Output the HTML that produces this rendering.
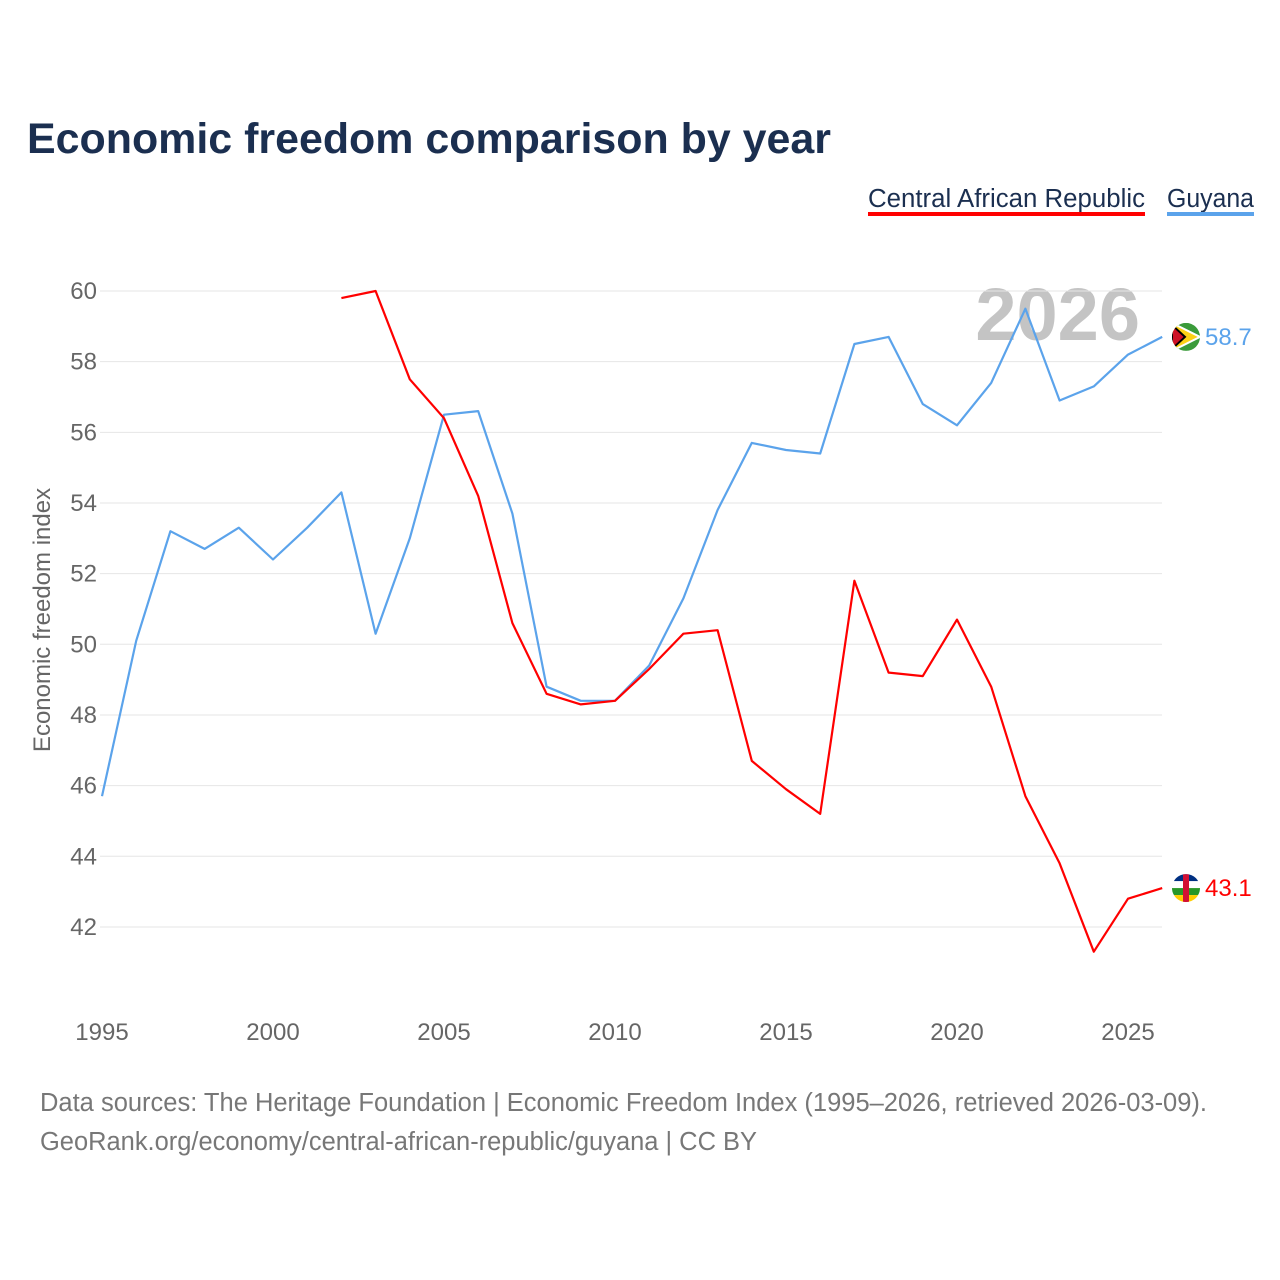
<!DOCTYPE html>
<html><head><meta charset="utf-8">
<style>
body{margin:0;background:#fff;font-family:"Liberation Sans",sans-serif;}
#wrap{position:relative;width:1280px;height:1280px;overflow:hidden;}
</style></head>
<body><div id="wrap">
<svg id="svg" width="1280" height="1280" xmlns="http://www.w3.org/2000/svg">
<defs>
<clipPath id="cg"><circle cx="1186" cy="337" r="14"/></clipPath>
<clipPath id="cc"><circle cx="1186" cy="886" r="14"/></clipPath>
</defs>
<text x="27" y="153" font-size="43" font-weight="bold" fill="#1b2f50" textLength="804" lengthAdjust="spacingAndGlyphs">Economic freedom comparison by year</text>
<g><text x="868" y="207" font-size="25.5" fill="#1b2f50" textLength="277" lengthAdjust="spacingAndGlyphs">Central African Republic</text><rect x="868" y="212" width="277" height="4" fill="#ff0000"/></g>
<g><text x="1167" y="207" font-size="25.5" fill="#1b2f50" textLength="87" lengthAdjust="spacingAndGlyphs">Guyana</text><rect x="1167" y="212" width="87" height="4" fill="#5ba3eb"/></g>
<text x="1140" y="340" font-size="74" font-weight="bold" fill="#c4c4c4" text-anchor="end">2026</text>
<text transform="translate(50,620) rotate(-90)" font-size="24" fill="#666" text-anchor="middle">Economic freedom index</text>
<g id="grid"></g><g id="series"></g><g id="ends"></g>
<text x="40" y="1111" font-size="25.5" fill="#777" textLength="1167" lengthAdjust="spacingAndGlyphs">Data sources: The Heritage Foundation | Economic Freedom Index (1995–2026, retrieved 2026-03-09).</text>
<text x="40" y="1150" font-size="25.5" fill="#777" textLength="717" lengthAdjust="spacingAndGlyphs">GeoRank.org/economy/central-african-republic/guyana | CC BY</text>
</svg></div>
<script>
const years=[1995,1996,1997,1998,1999,2000,2001,2002,2003,2004,2005,2006,2007,2008,2009,2010,2011,2012,2013,2014,2015,2016,2017,2018,2019,2020,2021,2022,2023,2024,2025,2026];
const guyana=[45.7,50.1,53.2,52.7,53.3,52.4,53.3,54.3,50.3,53.0,56.5,56.6,53.7,48.8,48.4,48.4,49.4,51.3,53.8,55.7,55.5,55.4,58.5,58.7,56.8,56.2,57.4,59.5,56.9,57.3,58.2,58.7];
const car=[null,null,null,null,null,null,null,59.8,60.0,57.5,56.4,54.2,50.6,48.6,48.3,48.4,49.3,50.3,50.4,46.7,45.9,45.2,51.8,49.2,49.1,50.7,48.8,45.7,43.8,41.3,42.8,43.1];
const yTicks=[42,44,46,48,50,52,54,56,58,60];
const xTicks=[1995,2000,2005,2010,2015,2020,2025];
const NS="http://www.w3.org/2000/svg";
const X=y=>102+(y-1995)*34.2;
const Y=v=>291+(60-v)*35.33;
function el(t,a,p){const e=document.createElementNS(NS,t);for(const k in a)e.setAttribute(k,a[k]);p.appendChild(e);return e;}
const grid=document.getElementById('grid');
yTicks.forEach(v=>{
 const l=el('line',{x1:100,x2:1162,y1:Y(v),y2:Y(v),stroke:'#e6e6e6','stroke-width':1},grid);
 
 
 const t=el('text',{x:97,y:Y(v)+8,'font-size':24,fill:'#666','text-anchor':'end'},grid);t.textContent=v;
 
 
});
xTicks.forEach(v=>{
 const t=el('text',{x:X(v),y:1040,'font-size':24,fill:'#666','text-anchor':'middle'},grid);t.textContent=v;
 
 
});
const ser=document.getElementById('series');
function line(vals,color,name){
 let d='';vals.forEach((v,i)=>{if(v==null)return;d+=(d?'L':'M')+X(years[i]).toFixed(1)+','+Y(v).toFixed(1);});
 const p=el('path',{d:d,fill:'none',stroke:color,'stroke-width':2.2,'stroke-linejoin':'round'},ser);
 
 
}
line(guyana,'#5ba3eb','guyana-line');
line(car,'#ff0000','car-line');
const ends=document.getElementById('ends');
function endLabel(vals,color,name){
 const v=vals[vals.length-1];const cy=Y(v);const cx=1186;
 const cp=document.getElementById(name==='guyana'?'cg':'cc').firstElementChild;
 cp.setAttribute('cy',cy);
 const g=el('g',{'clip-path':name==='guyana'?'url(#cg)':'url(#cc)'},ends);
 
 
 if(name==='guyana'){
  el('rect',{x:cx-14,y:cy-14,width:28,height:28,fill:'#3a9b3a'},g);
  el('path',{d:`M${cx-14},${cy-14} L${cx+14},${cy} L${cx-14},${cy+14}Z`,fill:'#fcd116',stroke:'#fff','stroke-width':2},g);
  el('path',{d:`M${cx-14},${cy-12} L${cx-1},${cy} L${cx-14},${cy+12}Z`,fill:'#ce1126',stroke:'#000','stroke-width':2},g);
 } else {
  el('rect',{x:cx-14,y:cy-14,width:28,height:28,fill:'#fff'},g);
  el('rect',{x:cx-14,y:cy-14,width:28,height:7,fill:'#003082'},g);
  el('rect',{x:cx-14,y:cy,width:28,height:7,fill:'#289728'},g);
  el('rect',{x:cx-14,y:cy+7,width:28,height:7,fill:'#ffce00'},g);
  el('rect',{x:cx-3,y:cy-14,width:6,height:28,fill:'#d21034'},g);
 }
 const t=el('text',{x:1205,y:cy+8,'font-size':24,fill:color},ends);t.textContent=v.toFixed(1);
 
 
}
endLabel(guyana,'#5ba3eb','guyana');
endLabel(car,'#ff0000','car');
</script></body></html>
